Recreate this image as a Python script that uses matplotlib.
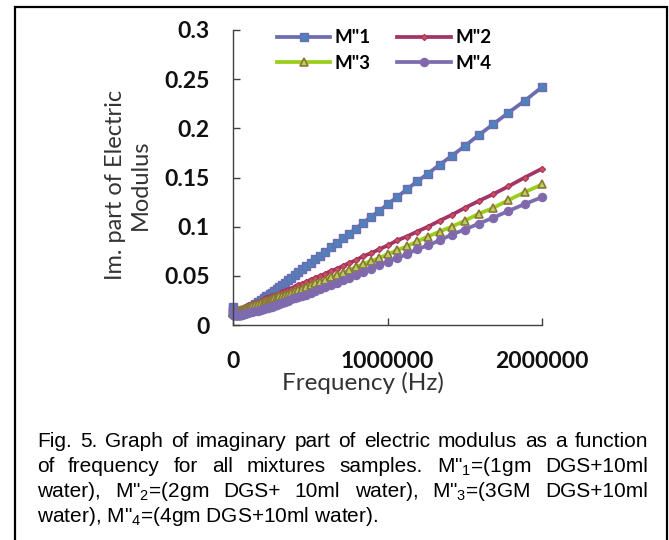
import matplotlib as mpl
mpl.use("Agg")
import matplotlib.pyplot as plt
from matplotlib.patches import Rectangle

# figure size in pixels at 100 dpi
W, H = 669, 540
mpl.rcParams['figure.dpi'] = 100
mpl.rcParams['mathtext.default'] = 'regular'

# frequency sweep (Hz) and imaginary part of electric modulus
freq = [20, 100, 1000, 2000, 5000, 10000,
        20000, 22500, 25200, 28300, 31700, 35600, 39900, 44800, 50200, 56400,
        63200, 71000, 79600, 89300, 100000, 112000, 126000, 142000, 159000, 178000,
        200000, 212000, 225000, 238000, 252000, 267000, 283000, 299000, 317000, 336000,
        356000, 377000, 399000, 423000, 448000, 474000, 502000, 532000, 564000, 597000,
        632000, 670000, 710000, 752000, 796000, 843000, 893000, 946000, 1002000, 1062000,
        1125000, 1192000, 1262000, 1337000, 1416000, 1500000, 1589000, 1683000, 1783000, 1888000,
        2000000]

m1 = [0.018, 0.016, 0.014, 0.013, 0.012, 0.011,
      0.010, 0.010, 0.010, 0.010, 0.010, 0.011, 0.011, 0.011, 0.012, 0.012,
      0.013, 0.013, 0.014, 0.015, 0.016, 0.018, 0.019, 0.021, 0.023, 0.025,
      0.027, 0.029, 0.030, 0.032, 0.033, 0.035, 0.037, 0.039, 0.041, 0.043,
      0.046, 0.048, 0.051, 0.054, 0.057, 0.060, 0.063, 0.067, 0.070, 0.074,
      0.079, 0.083, 0.088, 0.093, 0.098, 0.104, 0.110, 0.116, 0.123, 0.130,
      0.138, 0.146, 0.154, 0.163, 0.172, 0.182, 0.193, 0.204, 0.216, 0.228,
      0.242]

m2 = [0.015, 0.014, 0.013, 0.013, 0.013, 0.014,
      0.014, 0.014, 0.015, 0.015, 0.015, 0.015, 0.015, 0.016, 0.016, 0.016,
      0.017, 0.017, 0.018, 0.019, 0.019, 0.020, 0.021, 0.022, 0.023, 0.024,
      0.026, 0.027, 0.0275, 0.028, 0.029, 0.030, 0.031, 0.032, 0.034, 0.035,
      0.036, 0.037, 0.039, 0.041, 0.042, 0.044, 0.046, 0.048, 0.050, 0.052,
      0.055, 0.057, 0.060, 0.063, 0.066, 0.070, 0.073, 0.077, 0.081, 0.086,
      0.090, 0.095, 0.100, 0.106, 0.112, 0.119, 0.126, 0.133, 0.141, 0.150,
      0.159]

m3 = [0.014, 0.013, 0.012, 0.012, 0.012, 0.013,
      0.013, 0.013, 0.013, 0.013, 0.014, 0.014, 0.014, 0.014, 0.015, 0.015,
      0.015, 0.016, 0.016, 0.017, 0.017, 0.018, 0.019, 0.020, 0.021, 0.022,
      0.023, 0.024, 0.0245, 0.025, 0.026, 0.027, 0.028, 0.029, 0.030, 0.031,
      0.032, 0.033, 0.035, 0.036, 0.037, 0.039, 0.041, 0.043, 0.044, 0.046,
      0.049, 0.051, 0.053, 0.056, 0.059, 0.062, 0.065, 0.068, 0.072, 0.076,
      0.080, 0.085, 0.090, 0.095, 0.100, 0.106, 0.113, 0.119, 0.127, 0.135,
      0.143]

m4 = [0.015, 0.013, 0.011, 0.010, 0.010, 0.010,
      0.010, 0.010, 0.010, 0.010, 0.010, 0.010, 0.010, 0.010, 0.010, 0.010,
      0.011, 0.011, 0.011, 0.012, 0.012, 0.013, 0.013, 0.014, 0.014, 0.015,
      0.016, 0.017, 0.017, 0.018, 0.018, 0.019, 0.020, 0.021, 0.022, 0.023,
      0.024, 0.026, 0.027, 0.028, 0.030, 0.031, 0.033, 0.035, 0.037, 0.039,
      0.041, 0.043, 0.046, 0.048, 0.051, 0.054, 0.057, 0.061, 0.064, 0.068,
      0.072, 0.077, 0.081, 0.086, 0.092, 0.097, 0.103, 0.109, 0.116, 0.123,
      0.130]

series_labels = ['M"1', 'M"2', 'M"3', 'M"4']
x_ticks = [0, 1000000, 2000000]
x_ticklabels = ['0', '1000000', '2000000']
y_ticks = [0, 0.05, 0.1, 0.15, 0.2, 0.25, 0.3]
y_ticklabels = ['0', '0.05', '0.1', '0.15', '0.2', '0.25', '0.3']

caption_lines = [
    'Fig. 5. Graph of imaginary part of electric modulus as a function',
    'of frequency for all mixtures samples. M"$_1$=(1gm DGS+10ml',
    'water), M"$_2$=(2gm DGS+ 10ml water), M"$_3$=(3GM DGS+10ml',
    'water), M"$_4$=(4gm DGS+10ml water).',
]

# set up figure
fig = plt.figure(figsize=(W / 100, H / 100), dpi=100)
fig.patch.set_facecolor('white')

# axes box in pixels: left 233, right 542, top 30, bottom 325
ax = fig.add_axes([233 / W, 1 - 325 / H, (542 - 233) / W, (325 - 30) / H])

# line style, marker, face, edge per series
styles = [
    dict(color='#6B6DAE', marker='s', ms=5.8, mfc='#4F81BD', mec='#6B6DAE', mew=1.0),
    dict(color='#A33468', marker='D', ms=3.2, mfc='#D0504D', mec='#A33468', mew=0.8),
    dict(color='#9ACD1C', marker='^', ms=6.0, mfc='#B5D35A', mec='#8C7536', mew=1.2),
    dict(color='#7A6DB0', marker='o', ms=5.8, mfc='#8467AB', mec='#7A6DB0', mew=1.0),
]
lines = []
for y, lab, st in zip([m1, m2, m3, m4], series_labels, styles):
    ln, = ax.plot(freq, y, lw=2.7, label=lab, clip_on=False, **st)
    lines.append(ln)

# axis settings
ax.set_xlim(0, 2000000)
ax.set_ylim(0, 0.3)
ax.set_xticks(x_ticks)
ax.set_xticklabels(x_ticklabels)
ax.set_yticks(y_ticks)
ax.set_yticklabels(y_ticklabels)
for s in ['top', 'right']:
    ax.spines[s].set_visible(False)
for s in ['left', 'bottom']:
    ax.spines[s].set_color('#404040')
    ax.spines[s].set_linewidth(1.0)
ax.tick_params(axis='both', direction='in', length=5, width=1.0, color='#404040')
ax.tick_params(axis='y', pad=17)
ax.tick_params(axis='x', pad=19)
for t in ax.get_xticklabels() + ax.get_yticklabels():
    t.set_fontfamily('Lato')
    t.set_fontweight('bold')
    t.set_fontsize(16.5)
    t.set_color('#111111')

# legend, two columns filled row by row (M"1 M"2 / M"3 M"4)
order = [0, 2, 1, 3]
leg = ax.legend([lines[i] for i in order], [series_labels[i] for i in order],
                ncol=2, loc='upper left', bbox_to_anchor=(27 / 309, 1.06),
                frameon=False, handlelength=2.85, handletextpad=0.25,
                columnspacing=1.4, labelspacing=0.45,
                prop=dict(family='Lato', weight='bold', size=13.5))

# axis titles
fig.text(128 / W, 1 - 185 / H, 'Im. part of Electric\nModulus', rotation=90,
         ha='center', va='center', family='Lato', fontsize=17, color='#333333',
         linespacing=1.25, multialignment='center')
fig.text(363 / W, 1 - 383 / H, 'Frequency (Hz)', ha='center', va='center',
         family='Lato', fontsize=17.5, color='#333333')

# frame around figure and caption
fig.patches.append(Rectangle((15 / W, -0.02), (667 - 15) / W, 1.02 - 7 / H,
                             transform=fig.transFigure, fill=False,
                             edgecolor='black', lw=1.6))

# caption, justified except for the last line
cap_font = dict(family='Liberation Sans', fontsize=15.0, color='black')
left, right = 37, 648
baselines = [447, 472, 497, 522]
renderer = fig.canvas.get_renderer()
for i, (line, yb) in enumerate(zip(caption_lines, baselines)):
    if i == len(caption_lines) - 1:
        fig.text(left / W, 1 - yb / H, line, ha='left', va='baseline', **cap_font)
        continue
    words = line.split(' ')
    texts = [fig.text(0, 1 - yb / H, w, ha='left', va='baseline', **cap_font) for w in words]
    widths = [t.get_window_extent(renderer=renderer).width for t in texts]
    gap = (right - left - sum(widths)) / (len(words) - 1)
    x = left
    for t, w in zip(texts, widths):
        t.set_x(x / W)
        x += w + gap

plt.savefig('out.png', dpi=100)
plt.close('all')
